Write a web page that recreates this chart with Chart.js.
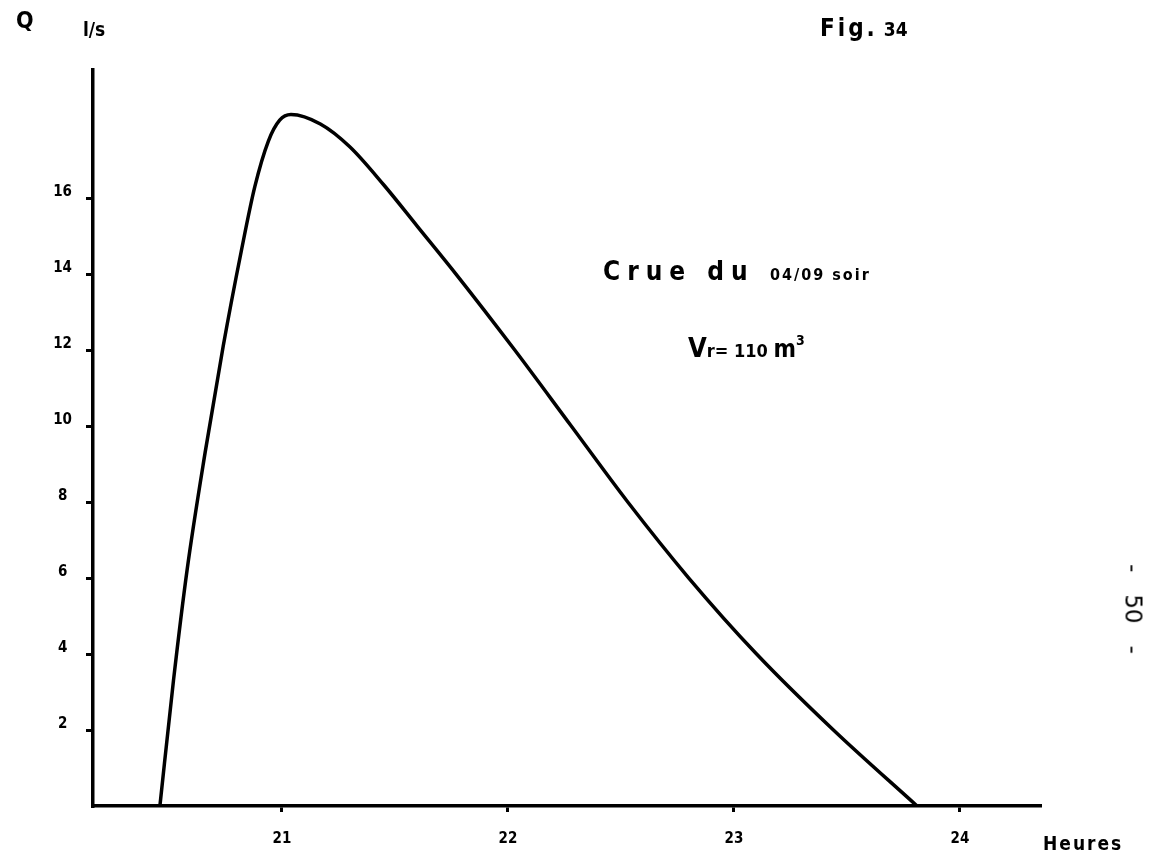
<!DOCTYPE html>
<html>
<head>
<meta charset="utf-8">
<script src="https://cdn.jsdelivr.net/npm/chart.js@4.4.1/dist/chart.umd.min.js"></script>
<style>
  html, body { margin: 0; padding: 0; background: #fff; }
  #wrap { position: relative; width: 1153px; height: 860px; overflow: hidden; }
  #chart { position: absolute; left: 0; top: 0; }
  .lbl { position: absolute; color: #000; font-family: "DejaVu Sans Condensed", "DejaVu Sans", sans-serif; font-weight: bold; white-space: pre; line-height: 1; }
</style>
</head>
<body>
<div id="wrap">
  <canvas id="chart" width="1153" height="860"></canvas>
  <div class="lbl" style="left:16px; top:9px; font-size:23px;">Q</div>
  <div class="lbl" style="left:83px; top:20px; font-size:19px;">l/s</div>
  <div class="lbl" style="left:820px; top:16px; font-size:24px; letter-spacing:3px;">Fig.<span style="font-size:19px; letter-spacing:0;"> 34</span></div>
  <div class="lbl" style="left:603px; top:258px; font-size:26px; letter-spacing:7px;">Crue du <span style="font-size:16px; letter-spacing:2px;">04/09 soir</span></div>
  <div class="lbl" style="left:688px; top:333px; font-size:27px;">V<span style="font-size:18px;">r= 110 </span><span style="font-size:24px;">m</span><sup style="font-size:14px; vertical-align:12px;">3</sup></div>
  <div class="lbl" style="left:1043px; top:834px; font-size:19px; letter-spacing:2px;">Heures</div>
  <div class="lbl" style="left:1133px; top:609px; font-size:23px; font-weight:normal; font-family:'DejaVu Sans', sans-serif; transform: translate(-50%, -50%) rotate(90deg);">-   50   -</div>
</div>
<script>
// hydrogramme de crue : debit (l/s) en fonction de l'heure
const hours = [20.46, 20.52, 20.58, 20.66, 20.74, 20.82, 20.88, 20.94, 20.99, 21.04, 21.17, 21.3, 21.45, 21.6, 21.77, 22.03, 22.28, 22.53, 22.8, 23.1, 23.44, 23.81];
const flow = [0, 3.3, 6.2, 9.3, 12.1, 14.6, 16.3, 17.5, 18.05, 18.2, 17.95, 17.35, 16.35, 15.25, 14.0, 12.0, 10.0, 8.0, 6.0, 4.0, 2.0, 0];
const xTicks = [21, 22, 23, 24];
const yTicks = [2, 4, 6, 8, 10, 12, 14, 16];

const tickFont = { family: '"DejaVu Sans Condensed", "DejaVu Sans", sans-serif', weight: 'bold', size: 15 };

new Chart(document.getElementById('chart'), {
  type: 'line',
  data: {
    datasets: [{
      data: hours.map((h, i) => ({ x: h, y: flow[i] })),
      borderColor: '#000',
      borderWidth: 3.5,
      pointRadius: 0,
      cubicInterpolationMode: 'monotone',
      fill: false,
    }],
  },
  options: {
    responsive: false,
    animation: false,
    layout: { padding: { top: 70, right: 113, left: 0, bottom: 0 } },
    plugins: { legend: { display: false }, tooltip: { enabled: false } },
    scales: {
      x: {
        type: 'linear',
        min: 20.164,
        max: 24.354,
        afterBuildTicks: (scale) => { scale.ticks = xTicks.map((v) => ({ value: v })); },
        afterFit: (scale) => { scale.height = 54; },
        border: { display: true, color: '#000', width: 3.5 },
        grid: { drawOnChartArea: false, drawTicks: true, tickLength: 6, color: '#000', lineWidth: 3 },
        ticks: { color: '#000', font: tickFont, padding: 18, maxRotation: 0 },
      },
      y: {
        type: 'linear',
        min: 0,
        max: 19.37,
        afterBuildTicks: (scale) => { scale.ticks = yTicks.map((v) => ({ value: v })); },
        afterFit: (scale) => { scale.width = 93; },
        border: { display: true, color: '#000', width: 3.5 },
        grid: { drawOnChartArea: false, drawTicks: true, tickLength: 7, color: '#000', lineWidth: 3 },
        ticks: { color: '#000', font: tickFont, padding: 14, crossAlign: 'center', labelOffset: -6 },
      },
    },
  },
});
</script>
</body>
</html>
